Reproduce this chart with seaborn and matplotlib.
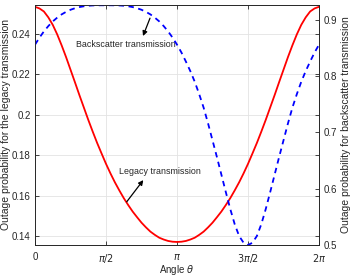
import numpy as np
import matplotlib
matplotlib.use('Agg')
import matplotlib.pyplot as plt
import seaborn as sns

# grade de angulos em graus (passo de 5.625 graus)
angulo_graus = np.linspace(0, 360, 65)

# transmissao legada (eixo esquerdo)
legacy = [0.2532, 0.2524, 0.2509, 0.2480, 0.2443, 0.2396, 0.2342, 0.2284, 0.2222,
          0.2160, 0.2097, 0.2036, 0.1975, 0.1917, 0.1861, 0.1809, 0.1758,
          0.1711, 0.1667, 0.1627, 0.1589, 0.1555, 0.1523, 0.1495, 0.1468,
          0.1445, 0.1424, 0.1408, 0.1394, 0.1385, 0.1378, 0.13742, 0.1373,
          0.13742, 0.1378, 0.1385, 0.1394, 0.1408, 0.1424, 0.1445, 0.1468,
          0.1495, 0.1523, 0.1555, 0.1589, 0.1627, 0.1667, 0.1711, 0.1758,
          0.1809, 0.1861, 0.1917, 0.1975, 0.2036, 0.2097, 0.2160, 0.2222,
          0.2284, 0.2342, 0.2396, 0.2443, 0.2480, 0.2509, 0.2524, 0.2532]

# transmissao backscatter (eixo direito)
backscatter = [0.856, 0.8685, 0.8795, 0.8890, 0.8973, 0.9040, 0.9098, 0.9143, 0.9180,
               0.9207, 0.9228, 0.9242, 0.9252, 0.9257, 0.9259, 0.9260, 0.9260,
               0.9260, 0.9259, 0.9257, 0.9252, 0.9242, 0.9228, 0.9207, 0.9180,
               0.9143, 0.9098, 0.9040, 0.8973, 0.8890, 0.8795, 0.8685, 0.856,
               0.842, 0.826, 0.809, 0.790, 0.768, 0.744, 0.716, 0.686,
               0.656, 0.625, 0.594, 0.564, 0.537, 0.516, 0.504, 0.500,
               0.504, 0.516, 0.537, 0.564, 0.594, 0.625, 0.656, 0.686,
               0.716, 0.744, 0.768, 0.790, 0.809, 0.826, 0.842, 0.856]

xticks_labels = ['0', r'$\pi/2$', r'$\pi$', r'$3\pi/2$', r'$2\pi$']
yticks_esq = [0.14, 0.16, 0.18, 0.2, 0.22, 0.24]
yticks_esq_labels = ['0.14', '0.16', '0.18', '0.2', '0.22', '0.24']
yticks_dir = [0.5, 0.6, 0.7, 0.8, 0.9]
yticks_dir_labels = ['0.5', '0.6', '0.7', '0.8', '0.9']

sns.set_theme(style='ticks')
plt.rcParams['font.family'] = ['Liberation Sans', 'DejaVu Sans']
plt.rcParams['mathtext.fontset'] = 'dejavusans'

theta = np.deg2rad(angulo_graus)
cor_eixo = '#262626'

fig = plt.figure(figsize=(3.53, 2.77), dpi=100)
ax1 = fig.add_axes([0.0992, 0.1155, 0.8045, 0.8665])
ax2 = ax1.twinx()

sns.lineplot(x=theta, y=legacy, ax=ax1, color='#ff0000', linewidth=1.3)
sns.lineplot(x=theta, y=backscatter, ax=ax2, color='#0000ff', linewidth=1.3,
             linestyle=(0, (3, 2.5)))

ax1.set_xlim(0, 2 * np.pi)
ax1.set_ylim(0.1358, 0.2541)
ax2.set_ylim(0.5, 0.9265)

ax1.set_xticks([0, np.pi / 2, np.pi, 3 * np.pi / 2, 2 * np.pi])
ax1.set_xticklabels(xticks_labels)
ax1.set_yticks(yticks_esq)
ax1.set_yticklabels(yticks_esq_labels)
ax2.set_yticks(yticks_dir)
ax2.set_yticklabels(yticks_dir_labels)

ax1.grid(True, color='#e3e3e3', linewidth=0.6)
ax1.set_axisbelow(True)

for ax in (ax1, ax2):
    for s in ax.spines.values():
        s.set_color(cor_eixo)
        s.set_linewidth(0.6)
    ax.tick_params(direction='in', length=3, width=0.6, colors=cor_eixo,
                   labelsize=7, pad=3)
ax1.tick_params(axis='y', right=True)
ax1.tick_params(axis='x', top=True, pad=5)

ax1.set_xlabel(r'Angle $\theta$', fontsize=7, labelpad=-1.5, color='#262626')
ax1.set_ylabel('Outage probability for the legacy transmission', fontsize=7.5,
               labelpad=1, color='#262626')
ax2.set_ylabel('Outage probability for backscatter transmission', fontsize=7.5,
               labelpad=3, color='#262626')

# anotacoes com setas
ax1.text(0.907, 0.2348, 'Backscatter transmission', fontsize=6.4, va='center',
         ha='left', color='#262626')
ax1.annotate('', xy=(2.389, 0.2388), xytext=(2.544, 0.2476),
             arrowprops=dict(arrowstyle='-|>', color='black', lw=0.9,
                             mutation_scale=7, shrinkA=0, shrinkB=0))
ax1.text(1.858, 0.1718, 'Legacy transmission', fontsize=6.4, va='center',
         ha='left', color='#262626')
ax1.annotate('', xy=(2.396, 0.1678), xytext=(2.029, 0.1571),
             arrowprops=dict(arrowstyle='-|>', color='black', lw=0.9,
                             mutation_scale=7, shrinkA=0, shrinkB=0))

plt.savefig('out.png', dpi=100)
